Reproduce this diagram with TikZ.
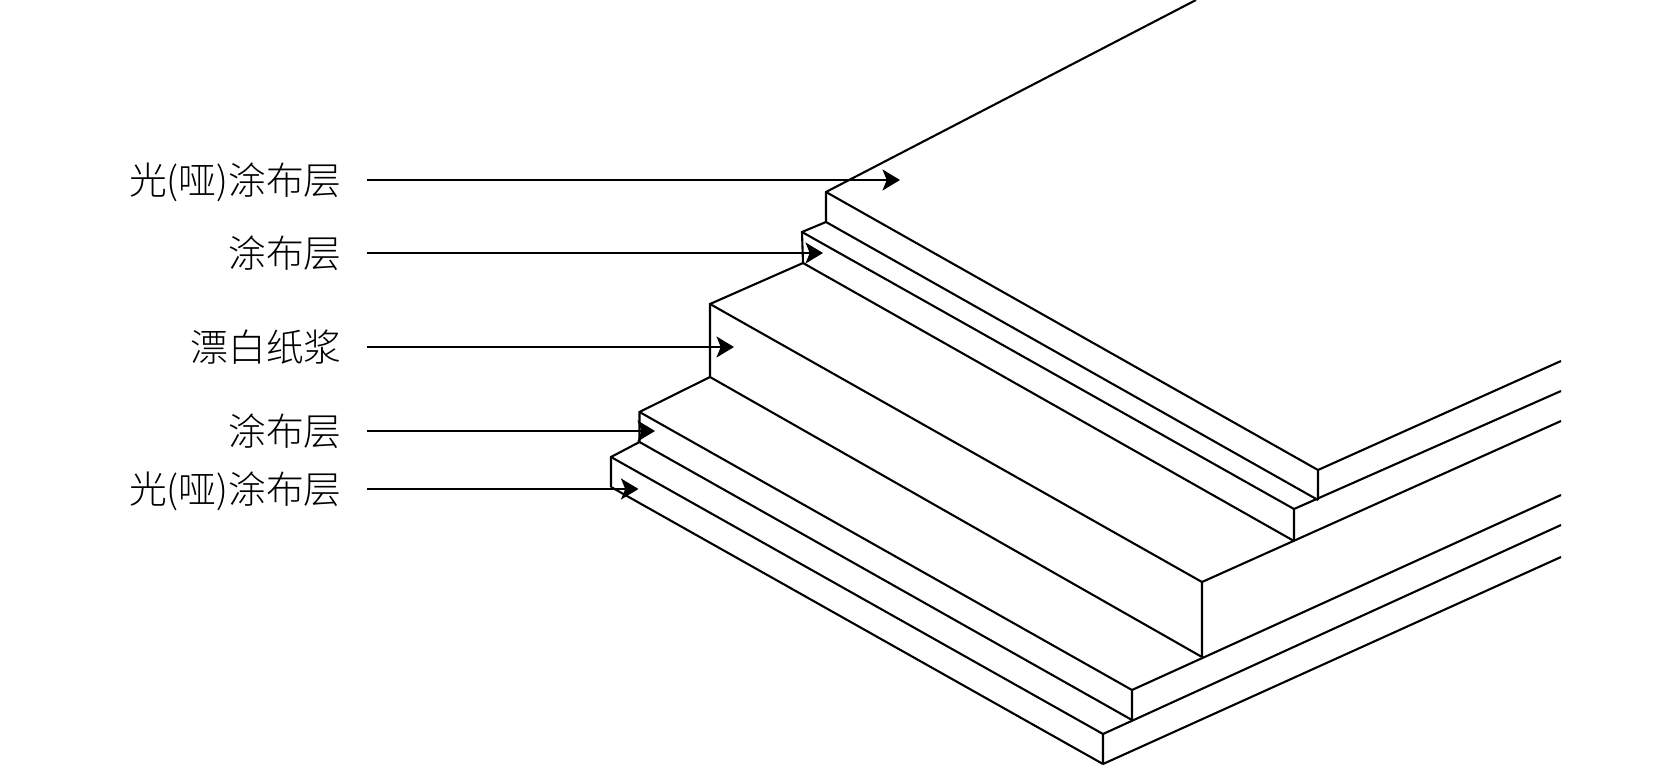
\documentclass[tikz,border=0pt]{standalone}
\usepackage{fontspec}
\newfontfamily\cjk{Noto Sans CJK SC Light}
\usetikzlibrary{arrows.meta}

\begin{document}
\begin{tikzpicture}[
    x=0.02cm, y=-0.02cm,
    edge/.style={line width=0.42mm},
    pointer/.style={line width=0.4mm, -{Stealth[length=3.5mm, width=4.2mm, inset=0.85mm]}},
    layer/.style={anchor=east, inner sep=0pt, outer xsep=0.5cm, text height=16pt, text depth=0pt, font=\cjk\fontsize{21.5}{21.5}\selectfont}
]
\useasboundingbox (0,0) rectangle (1668,771);

% back ends of the top face
\coordinate (t0) at (1196,0);
\coordinate (a1) at (826,192);
\coordinate (a2) at (826,222);
\coordinate (b1) at (802,232);
\coordinate (b2) at (803,263);
\coordinate (c1) at (710,304);
\coordinate (c2) at (710,377);
\coordinate (d1) at (639.5,412);
\coordinate (d2) at (639.5,442);
\coordinate (e1) at (611,457);
\coordinate (e2) at (611,487);

% front corners
\coordinate (A1) at (1318,470);
\coordinate (A2) at (1318,500);
\coordinate (B1) at (1294,509);
\coordinate (B2) at (1294,541);
\coordinate (C1) at (1202,582);
\coordinate (C2) at (1202,657);
\coordinate (D1) at (1132,690);
\coordinate (D2) at (1132,720);
\coordinate (E1) at (1103,734);
\coordinate (E2) at (1103,764);

% free ends on the right
\coordinate (r1) at (1561,361);
\coordinate (r2) at (1561,391);
\coordinate (r3) at (1561,421);
\coordinate (r4) at (1561,495);
\coordinate (r5) at (1561,525);
\coordinate (r6) at (1561,557);

% left side
\draw[edge] (t0) -- (a1) -- (a2) -- (b1) -- (b2) -- (c1) -- (c2) -- (d1) -- (d2) -- (e1) -- (e2);

% long edges
\draw[edge] (a1) -- (A1);
\draw[edge] (a2) -- (A2);
\draw[edge] (b1) -- (B1);
\draw[edge] (b2) -- (B2);
\draw[edge] (c1) -- (C1);
\draw[edge] (c2) -- (C2);
\draw[edge] (d1) -- (D1);
\draw[edge] (d2) -- (D2);
\draw[edge] (e1) -- (E1);
\draw[edge] (e2) -- (E2);

% front side
\draw[edge] (r1) -- (A1) -- (A2);
\draw[edge] (r2) -- (B1) -- (B2);
\draw[edge] (r3) -- (C1) -- (C2);
\draw[edge] (r4) -- (D1) -- (D2);
\draw[edge] (r5) -- (E1) -- (E2);
\draw[edge] (r6) -- (E2);

% labels
\node[layer] (gloss1) at (366.7,180) {光(哑)涂布层};
\node[layer] (coat1) at (366.7,253) {涂布层};
\node[layer] (pulp) at (366.7,347) {漂白纸浆};
\node[layer] (coat2) at (366.7,431) {涂布层};
\node[layer] (gloss2) at (366.7,489) {光(哑)涂布层};

\coordinate (tip1) at (900,180);
\coordinate (tip2) at (823,253);
\coordinate (tip3) at (734,347);
\coordinate (tip4) at (655,431);
\coordinate (tip5) at (638.5,489);

\draw[pointer] (gloss1) -- (tip1);
\draw[pointer] (coat1) -- (tip2);
\draw[pointer] (pulp) -- (tip3);
\draw[pointer] (coat2) -- (tip4);
\draw[pointer] (gloss2) -- (tip5);

\end{tikzpicture}
\end{document}
